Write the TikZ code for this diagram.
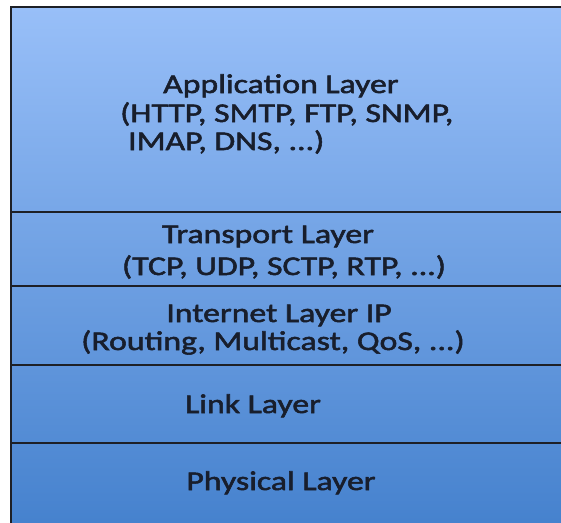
\documentclass[tikz,border=0pt]{standalone}
\usepackage{fontspec}
\setmainfont{Carlito}[FakeStretch=1.25, FakeBold=2]
\definecolor{stacktop}{RGB}{152,191,248}
\definecolor{stackbottom}{RGB}{70,130,206}
\definecolor{edge}{RGB}{30,32,38}
\definecolor{ink}{RGB}{24,30,44}
\begin{document}
\begin{tikzpicture}[x=1pt,y=1pt,
  layerbox/.style={draw=edge, line width=2.4pt, rectangle, anchor=north west,
    minimum width=620pt, inner sep=0pt, outer sep=0pt},
  label/.style={text=ink, font=\fontsize{27}{29}\selectfont, inner sep=0pt, anchor=base}]
  \useasboundingbox (0,0) rectangle (561,-522);
  \clip (0,0) rectangle (561,-522);
  % one continuous gradient behind the whole protocol stack
  \fill[top color=stacktop, bottom color=stackbottom] (11,-7) rectangle (640,-522);
  % the five layer boxes, stacked top to bottom
  \node[layerbox, minimum height=205pt] (app) at (11,-7) {};
  \node[layerbox, minimum height=74pt] (transport) at (app.south west) {};
  \node[layerbox, minimum height=79pt] (internet) at (transport.south west) {};
  \node[layerbox, minimum height=78pt] (link) at (internet.south west) {};
  \node[layerbox, minimum height=100pt] (physical) at (link.south west) {};
  % layer titles and example protocols
  \node[label, anchor=base west] (appT) at (163,-93) {Application Layer};
  \node[label, anchor=base west] (appP1) at (120,-122) {(HTTP, SMTP, FTP, SNMP,};
  \node[label, anchor=base west] (appP2) at (128,-150) {IMAP, DNS, ...)};
  \node[label] (transT) at (268,-243) {Transport Layer};
  \node[label] (transP) at (284,-275) {(TCP, UDP, SCTP, RTP, ...)};
  \node[label] (interT) at (279,-322) {Internet Layer IP};
  \node[label] (interP) at (273,-350) {(Routing, Multicast, QoS, ...)};
  \node[label] (linkT) at (253,-413) {Link Layer};
  \node[label] (physT) at (281,-490) {Physical Layer};
\end{tikzpicture}
\end{document}
